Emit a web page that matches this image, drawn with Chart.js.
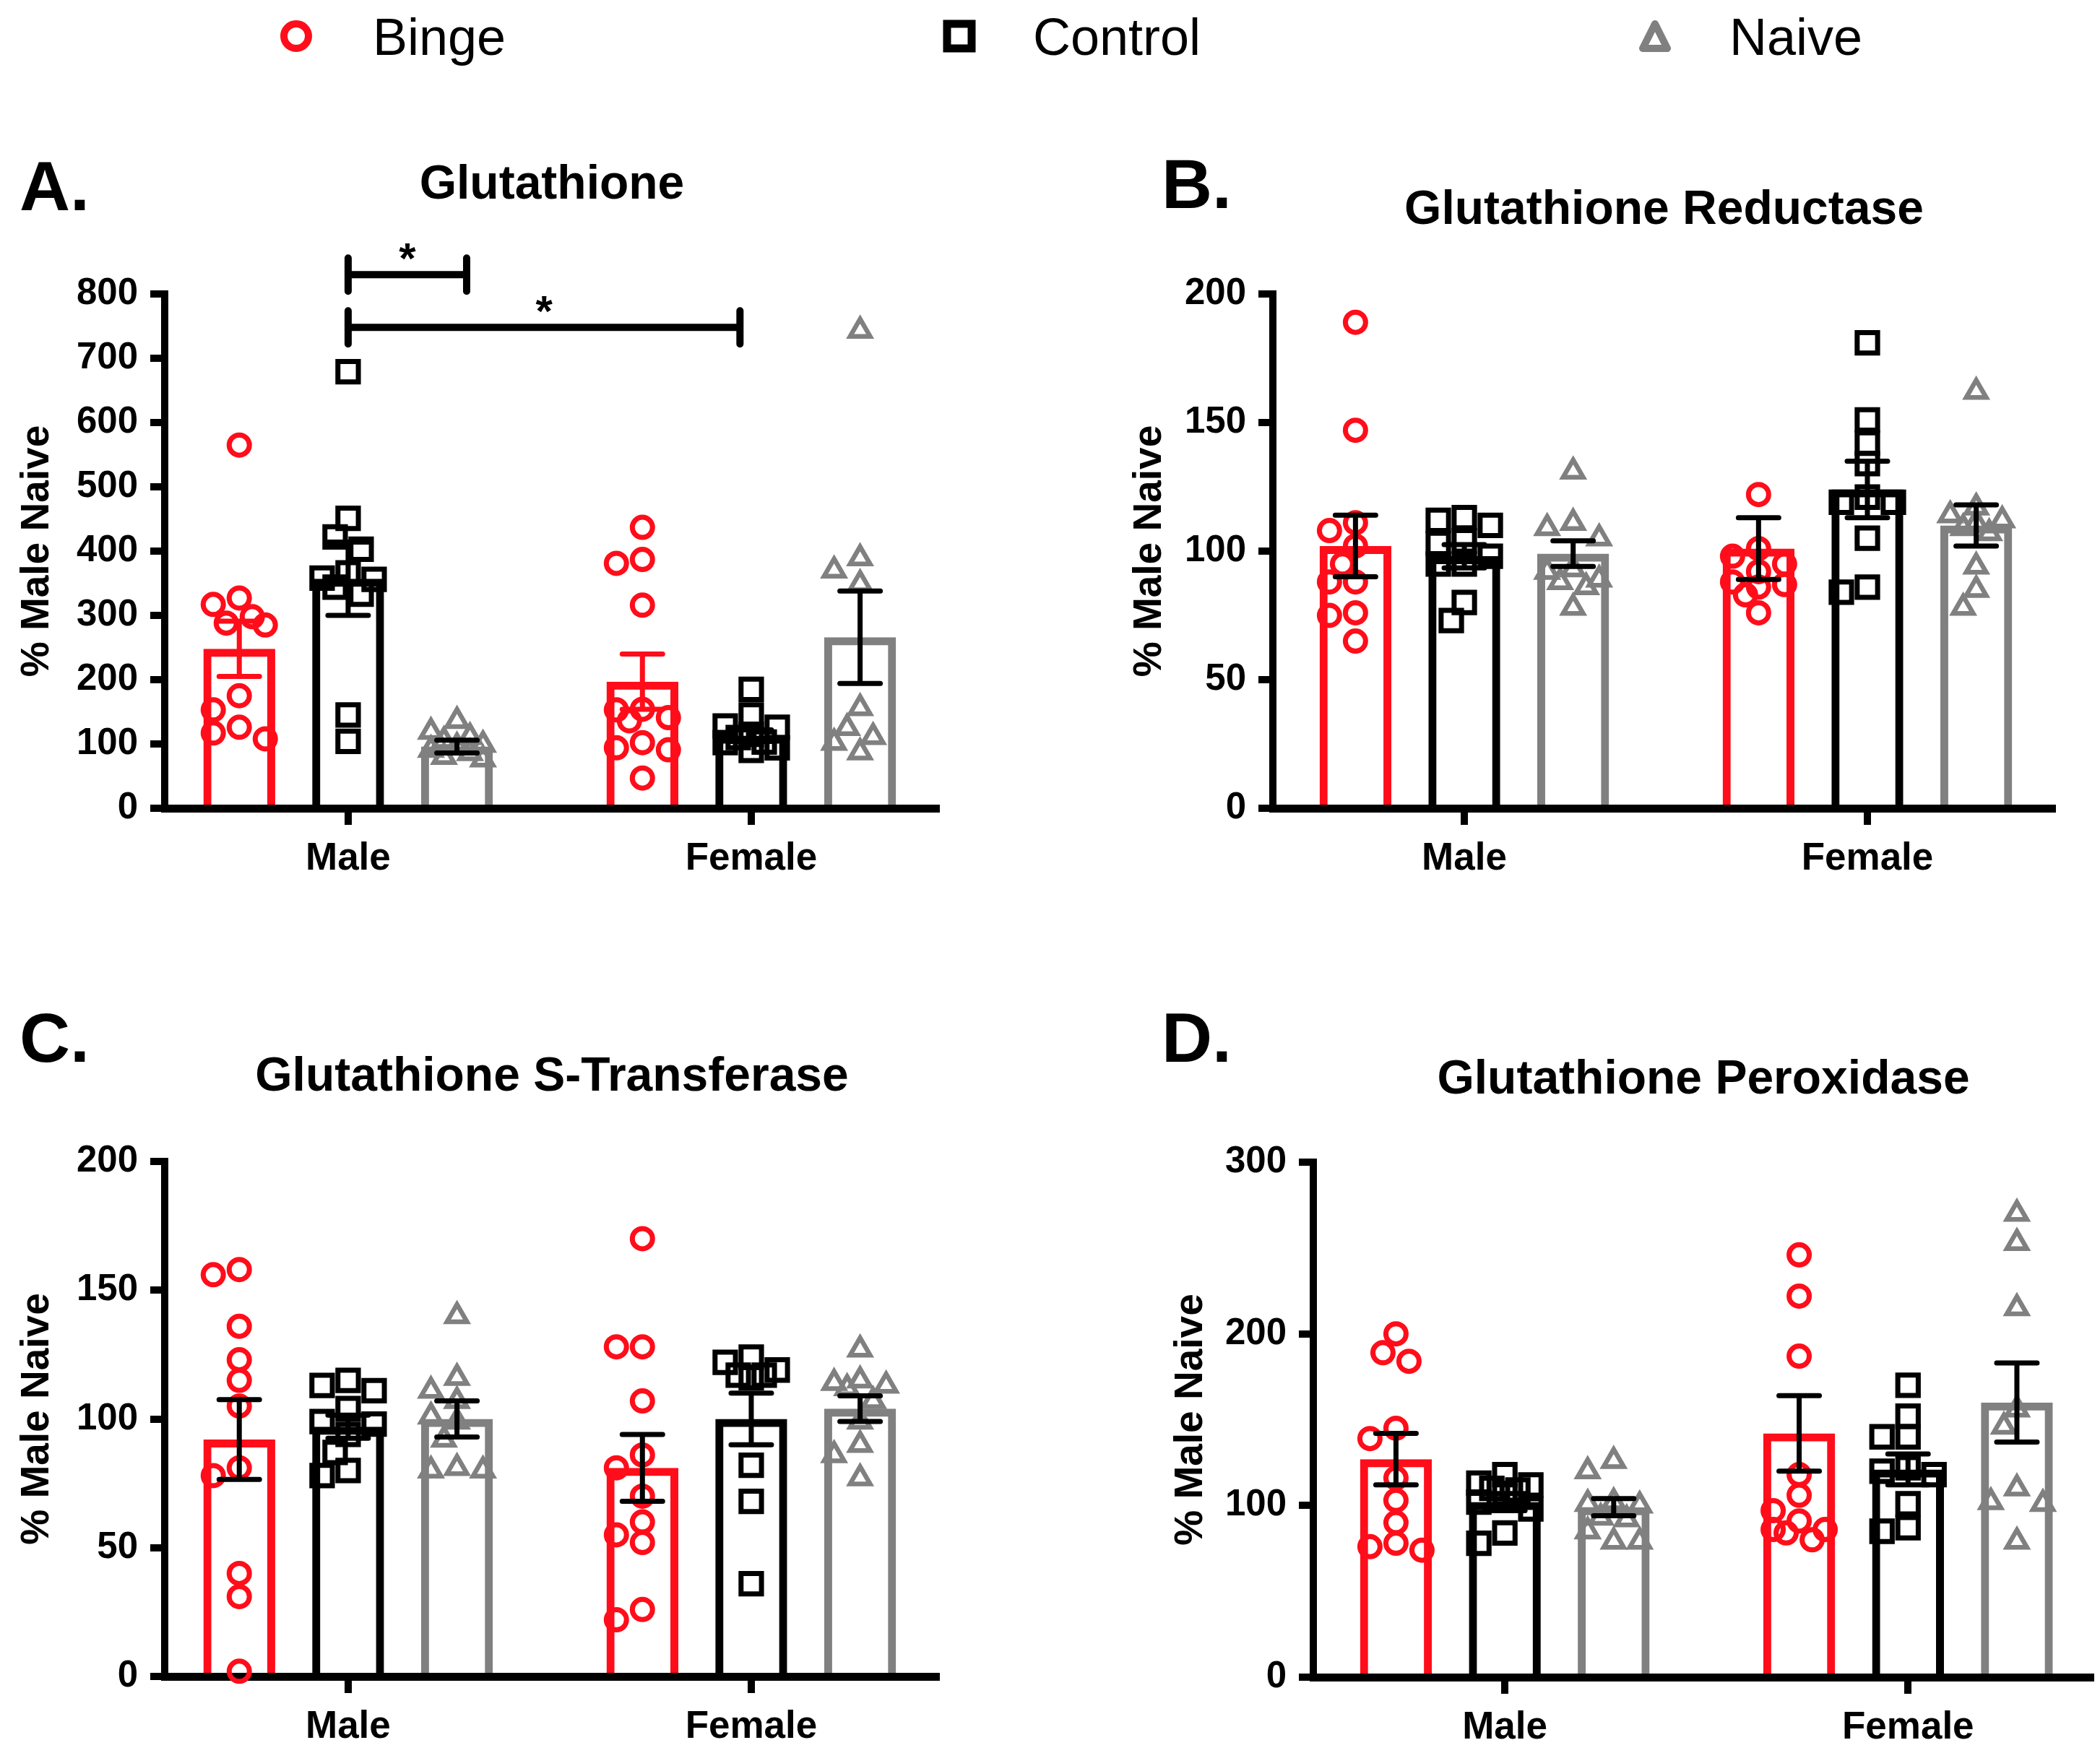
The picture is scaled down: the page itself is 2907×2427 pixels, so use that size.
<!DOCTYPE html>
<html>
<head>
<meta charset="utf-8">
<title>Glutathione system</title>
<script src="https://cdn.jsdelivr.net/npm/chart.js@4.4.1/dist/chart.umd.min.js"></script>
<style>
  html, body { margin: 0; padding: 0; background: #fff; }
  body { width: 2907px; height: 2427px; position: relative; overflow: hidden;
         font-family: 'Liberation Sans', Arial, sans-serif; }
  canvas { position: absolute; }
  .key { position: absolute; top: 15px; height: 72px; line-height: 72px; font-size: 72px; color: #000; white-space: nowrap; }
  .mark { position: absolute; }
</style>
</head>
<body>
<svg class="mark" style="left:386px;top:26px" width="48" height="48"><circle cx="24" cy="24" r="17" fill="none" stroke="#ff0d1a" stroke-width="10"/></svg>
<div class="key" style="left:516px">Binge</div>
<svg class="mark" style="left:1305px;top:27px" width="46" height="46"><rect x="6" y="6" width="34" height="34" fill="none" stroke="#000" stroke-width="11"/></svg>
<div class="key" style="left:1430px">Control</div>
<svg class="mark" style="left:2267px;top:26px" width="48" height="48"><polygon points="24,7 41,41 7,41" fill="none" stroke="#808080" stroke-width="10" stroke-linejoin="round"/></svg>
<div class="key" style="left:2394px">Naive</div>

<canvas id="pA"></canvas>
<canvas id="pB"></canvas>
<canvas id="pC"></canvas>
<canvas id="pD"></canvas>

<script>
const groups = ['Male', 'Female']
const series = ['Binge', 'Control', 'Naive']
const yTitle = '% Male Naive'

// A. Glutathione  -- means / SEM are [Male, Female] per series
const gshRange = [0, 800, 100]
const gshMean = [[248, 197], [357, 113], [96, 266]]
const gshSem = [[43, 43], [57, 9], [10, 72]]
const gshBinge = [[565, 327, 317, 298, 288, 285, 175, 153, 126, 117, 108],
  [437, 387, 381, 316, 154, 153, 141, 136, 102, 94, 91, 47]]
const gshControl = [[679, 451, 422, 403, 366, 358, 356, 344, 333, 145, 104],
  [185, 145, 128, 126, 115, 110, 103, 102, 94, 90]]
const gshNaive = [[136, 119, 111, 105, 99, 96, 91, 86, 80, 76],
  [743, 389, 370, 349, 156, 125, 111, 102, 87]]
// significance: [from, to] on the Male/Female axis, level, mark
const gshSig = [[0, 0.294, 830, '*'], [0, 0.972, 748, '*']]

// B. Glutathione Reductase
const grRange = [0, 200, 50]
const grMean = [[102, 101], [98, 124], [99, 110]]
const grSem = [[12, 12], [4.5, 11], [5, 8]]
const grBinge = [[189, 147, 111, 108, 102, 95, 88, 88, 76, 75, 65],
  [122, 101, 98, 95, 92, 88, 87, 86, 83, 76]]
const grControl = [[113, 112, 110, 104, 103, 98, 95, 95, 80, 73],
  [181, 151, 142, 134, 121, 119, 119, 105, 86, 84]]
const grNaive = [[131, 111, 109, 105, 93, 92, 89, 88, 86, 78],
  [162, 117, 114, 112, 111, 109, 107, 94, 85, 78]]

// C. Glutathione S-Transferase
const gstRange = [0, 200, 50]
const gstMean = [[92, 81], [97, 100], [100, 104]]
const gstSem = [[15.5, 13], [4.5, 10], [7, 5]]
const gstBinge = [[158, 156, 136, 123, 115, 105, 81, 78, 40, 31, 2],
  [170, 128, 128, 107, 86, 81, 70, 60, 55, 52, 26, 22]]
const gstControl = [[115, 113, 111, 104, 99, 98, 94, 87, 80, 78],
  [124, 122, 119, 117, 117, 116, 82, 68, 36]]
const gstNaive = [[140, 116, 111, 107, 101, 99, 92, 81, 80, 80],
  [127, 115, 114, 113, 112, 107, 99, 90, 86, 77]]

// D. Glutathione Peroxidase
const gpxRange = [0, 300, 100]
const gpxMean = [[127, 142], [102, 121], [99, 160]]
const gpxSem = [[15, 22], [5, 9], [5, 23]]
const gpxBinge = [[200, 189, 184, 145, 139, 116, 103, 90, 78, 76, 74],
  [246, 222, 187, 118, 106, 97, 91, 86, 86, 84, 80]]
const gpxControl = [[118, 113, 112, 110, 109, 107, 102, 98, 84, 78],
  [170, 152, 140, 140, 122, 120, 118, 101, 87, 85]]
const gpxNaive = [[126, 120, 102, 101, 100, 93, 92, 85, 79, 79],
  [270, 253, 215, 156, 146, 110, 102, 101, 79]]

const RED = '#ff0d1a'
const BLACK = '#000000'
const GREY = '#808080'
const colors = [RED, BLACK, GREY]
const shapes = ['circle', 'rect', 'triangle']
const radii = [14, 20, 16]
const FONT = "'Liberation Sans', Arial, sans-serif"
const STEP = 18      // px between swarm lanes
const MIN_GAP = 28   // px, closer points get pushed sideways
const LANES = [0, -1, 1, -2, 2]

Chart.defaults.font.family = FONT
Chart.defaults.color = '#000'

const decor = {
  id: 'decor',
  afterDatasetsDraw(chart, args, o) {
    const ctx = chart.ctx
    const xs = chart.scales.x
    const ys = chart.scales.y
    ctx.save()
    ctx.lineCap = 'round'
    // SEM bars
    chart.data.datasets.forEach((ds, i) => {
      if (!ds.sem) return
      chart.getDatasetMeta(i).data.forEach((bar, j) => {
        const m = ds.data[j].y
        const top = ys.getPixelForValue(m + ds.sem[j])
        const bot = ys.getPixelForValue(m - ds.sem[j])
        ctx.strokeStyle = ds.errColor
        ctx.lineWidth = 7
        ctx.beginPath()
        ctx.moveTo(bar.x, top); ctx.lineTo(bar.x, bot)
        ctx.moveTo(bar.x - 28, top); ctx.lineTo(bar.x + 28, top)
        ctx.moveTo(bar.x - 28, bot); ctx.lineTo(bar.x + 28, bot)
        ctx.stroke()
      })
    })
    // significance brackets
    ;(o.sig || []).forEach(s => {
      const x0 = xs.getPixelForValue(s[0])
      const x1 = xs.getPixelForValue(s[1])
      const y = ys.getPixelForValue(s[2])
      const h = 23
      ctx.strokeStyle = '#000'
      ctx.lineWidth = 10
      ctx.beginPath()
      ctx.moveTo(x0, y); ctx.lineTo(x1, y)
      ctx.moveTo(x0, y - h); ctx.lineTo(x0, y + h)
      ctx.moveTo(x1, y - h); ctx.lineTo(x1, y + h)
      ctx.stroke()
      ctx.fillStyle = '#000'
      ctx.font = 'bold 60px ' + FONT
      ctx.textAlign = 'center'
      ctx.textBaseline = 'alphabetic'
      ctx.fillText(s[3], (x0 + x1) / 2, y - 2)
    })
    ctx.restore()
  },
  afterDraw(chart, args, o) {
    const ctx = chart.ctx
    const ca = chart.chartArea
    const xs = chart.scales.x
    ctx.save()
    // tick marks under Male / Female
    ctx.fillStyle = '#000'
    groups.forEach((g, i) => {
      const px = Math.round(xs.getPixelForValue(i))
      ctx.fillRect(px - 5, ca.bottom, 10, 23)
    })
    ctx.font = 'bold 66px ' + FONT
    ctx.textAlign = 'center'
    ctx.textBaseline = 'middle'
    ctx.fillText(o.title, (ca.left + ca.right) / 2, ca.top - o.titleGap)
    ctx.font = 'bold 97px ' + FONT
    ctx.textAlign = 'left'
    ctx.textBaseline = 'alphabetic'
    ctx.fillText(o.letter, o.letterAt[0], o.letterAt[1])
    ctx.restore()
  }
}

// spread the points of each group sideways so they do not sit on top of each other
function swarm(chart) {
  const xs = chart.scales.x
  const ys = chart.scales.y
  chart.data.datasets.forEach(ds => {
    if (ds.type !== 'scatter') return
    const bars = chart.getDatasetMeta(ds.bar).data
    const placed = []
    ds.data.forEach(pt => {
      const py = ys.getPixelForValue(pt.y)
      let bestK = 0
      let bestGap = -1
      for (const k of LANES) {
        let gap = Infinity
        placed.forEach(q => {
          if (q.g === pt.g) gap = Math.min(gap, Math.hypot((q.k - k) * STEP, q.py - py))
        })
        if (gap >= MIN_GAP) { bestK = k; break }
        if (gap > bestGap) { bestGap = gap; bestK = k }
      }
      placed.push({ g: pt.g, k: bestK, py })
      pt.x = xs.getValueForPixel(bars[pt.g].x + bestK * STEP)
    })
  })
  chart.update('none')
}

function makePanel(p) {
  const cv = document.getElementById(p.id)
  const [bx, by, bw, bh] = p.box
  const [al, at, ar, ab] = p.area
  cv.width = bw
  cv.height = bh
  cv.style.left = bx + 'px'
  cv.style.top = by + 'px'
  cv.style.width = bw + 'px'
  cv.style.height = bh + 'px'

  const datasets = []
  p.mean.forEach((m, s) => {
    datasets.push({
      type: 'bar',
      label: series[s],
      data: m.map((v, g) => ({ x: g, y: v })),
      sem: p.sem[s],
      errColor: p.errColors[s],
      backgroundColor: 'rgba(0,0,0,0)',
      borderColor: colors[s],
      borderWidth: 11,
      categoryPercentage: 0.81,
      barPercentage: 0.66,
      order: 10
    })
  })
  p.points.forEach((byGroup, s) => {
    const data = []
    byGroup.forEach((vals, g) => vals.forEach(v => data.push({ x: g, y: v, g })))
    datasets.push({
      type: 'scatter',
      label: series[s] + ' points',
      bar: s,
      data,
      pointStyle: shapes[s],
      pointRadius: radii[s],
      pointBorderWidth: s === 2 ? 6.5 : 7,
      pointBorderColor: colors[s],
      pointBackgroundColor: 'rgba(0,0,0,0)',
      showLine: false,
      clip: false,
      order: 0
    })
  })

  const chart = new Chart(cv, {
    type: 'bar',
    data: { datasets },
    options: {
      responsive: false,
      animation: false,
      devicePixelRatio: 1,
      events: [],
      layout: { autoPadding: false, padding: { left: 0, top: at - by, right: bx + bw - ar, bottom: 0 } },
      plugins: {
        legend: { display: false },
        tooltip: { enabled: false },
        decor: { title: p.title, titleGap: p.titleGap, letter: p.letter,
                 letterAt: [p.letterAt[0] - bx, p.letterAt[1] - by], sig: p.sig }
      },
      scales: {
        x: {
          type: 'linear',
          min: p.xSpan[0],
          max: p.xSpan[1],
          offset: false,
          afterBuildTicks: s => { s.ticks = groups.map((g, i) => ({ value: i })) },
          afterFit: s => { s.height = by + bh - ab },
          ticks: { callback: v => groups[v], font: { size: 53, weight: 'bold' }, color: '#000',
                   padding: 17, autoSkip: false, maxRotation: 0 },
          grid: { display: false, drawTicks: true, tickLength: 22 },
          border: { display: true, color: '#000', width: 11 }
        },
        y: {
          type: 'linear',
          min: p.range[0],
          max: p.range[1],
          afterFit: s => { s.width = al - bx },
          ticks: { stepSize: p.range[2], font: { size: 51, weight: 'bold' }, color: '#000', padding: 17 },
          grid: { drawOnChartArea: false, drawTicks: true, tickLength: 20, tickWidth: 10,
                  tickColor: '#000', color: '#000', lineWidth: 10 },
          border: { display: true, color: '#000', width: 10 },
          title: { display: true, text: yTitle, font: { size: 55, weight: 'bold', lineHeight: 1.2 },
                   color: '#000', padding: { top: p.yTitlePad, bottom: 0 } }
        }
      }
    },
    plugins: [decor]
  })
  swarm(chart)
  return chart
}

makePanel({
  id: 'pA', letter: 'A.', title: 'Glutathione', range: gshRange, mean: gshMean, sem: gshSem,
  points: [gshBinge, gshControl, gshNaive], sig: gshSig, errColors: [RED, BLACK, BLACK],
  box: [0, 0, 1450, 1260], area: [228, 407, 1300, 1119], xSpan: [-0.455, 1.466],
  titleGap: 150, letterAt: [27, 291], yTitlePad: 19
})
makePanel({
  id: 'pB', letter: 'B.', title: 'Glutathione Reductase', range: grRange, mean: grMean, sem: grSem,
  points: [grBinge, grControl, grNaive], errColors: [BLACK, BLACK, BLACK],
  box: [1534, 0, 1373, 1260], area: [1762, 407, 2845, 1119], xSpan: [-0.475, 1.466],
  titleGap: 115, letterAt: [1608, 288], yTitlePad: 25
})
makePanel({
  id: 'pC', letter: 'C.', title: 'Glutathione S-Transferase', range: gstRange, mean: gstMean, sem: gstSem,
  points: [gstBinge, gstControl, gstNaive], errColors: [BLACK, BLACK, BLACK],
  box: [0, 1213, 1450, 1214], area: [228, 1608, 1300, 2321], xSpan: [-0.455, 1.466],
  titleGap: 116, letterAt: [27, 1470], yTitlePad: 19
})
makePanel({
  id: 'pD', letter: 'D.', title: 'Glutathione Peroxidase', range: gpxRange, mean: gpxMean, sem: gpxSem,
  points: [gpxBinge, gpxControl, gpxNaive], errColors: [BLACK, BLACK, BLACK],
  box: [1590, 1213, 1317, 1214], area: [1818, 1609, 2898, 2322], xSpan: [-0.475, 1.46],
  titleGap: 113, letterAt: [1608, 1470], yTitlePad: 26
})
</script>
</body>
</html>
